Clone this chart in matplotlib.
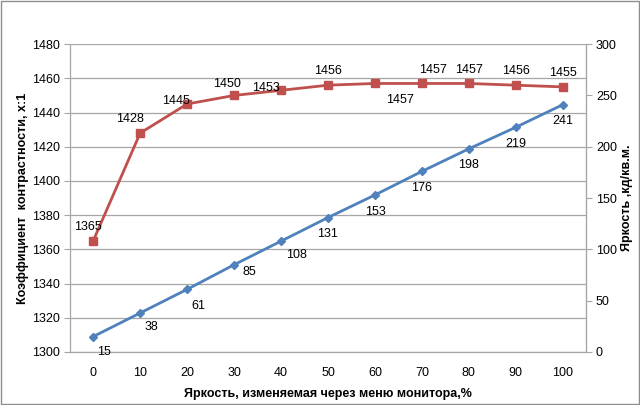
import matplotlib
matplotlib.use("Agg")
import matplotlib.pyplot as plt
from matplotlib.patches import Rectangle

plt.rcParams['font.family'] = ['Liberation Sans', 'DejaVu Sans']

x_cats = [0, 10, 20, 30, 40, 50, 60, 70, 80, 90, 100]
contrast = [1365, 1428, 1445, 1450, 1453, 1456, 1457, 1457, 1457, 1456, 1455]
brightness = [15, 38, 61, 85, 108, 131, 153, 176, 198, 219, 241]

xlabel = "Яркость, изменяемая через меню монитора,%"
ylabel_left = "Коэффициент  контрастности, х:1"
ylabel_right = "Яркость ,кд/кв.м."

# label offsets in points (dx, dy)
red_off = [(-4, 10), (-7, 10), (-8, 2), (-5, 8), (-11, 2), (0, 10), (18, -12), (8, 10), (0, 10), (0, 10), (0, 10)]
blue_off = [(8, -11), (8, -10), (8, -12), (11, -5), (11, -10), (0, -12), (0, -12), (0, -12), (0, -12), (0, -12), (0, -12)]

RED = '#C0504D'
BLUE = '#4F81BD'
GRID = '#A6A6A6'

fig = plt.figure(figsize=(6.4, 4.05), dpi=100)
fig.patches.append(Rectangle((0.001, 0.003), 0.997, 0.994, transform=fig.transFigure,
                             fill=False, edgecolor='#8C8C8C', linewidth=1.0))

ax = fig.add_axes([0.109, 0.131, 0.807, 0.760])
pos = list(range(len(x_cats)))
ax.set_xlim(-0.5, len(x_cats) - 0.5)
ax.set_ylim(1300, 1480)
ax.set_yticks(range(1300, 1481, 20))
ax.set_xticks(pos)
ax.set_xticklabels([str(v) for v in x_cats])
ax.grid(axis='y', color=GRID, linewidth=0.9)
ax.set_axisbelow(True)
ax.spines['top'].set_visible(False)
for s in ['left', 'bottom', 'right']:
    ax.spines[s].set_color(GRID)
    ax.spines[s].set_linewidth(0.9)
ax.tick_params(axis='y', length=4, color=GRID, labelsize=9, pad=3)
ax.tick_params(axis='x', length=0, labelsize=9, pad=11)

ax2 = ax.twinx()
ax2.set_ylim(0, 300)
ax2.set_yticks(range(0, 301, 50))
for s in ['top', 'left', 'bottom']:
    ax2.spines[s].set_visible(False)
ax2.spines['right'].set_color(GRID)
ax2.tick_params(axis='y', length=4, color=GRID, labelsize=9, pad=3)

ax2.plot(pos, brightness, color=BLUE, linewidth=2, marker='D', markersize=4.5, zorder=3)
ax.plot(pos, contrast, color=RED, linewidth=2, marker='s', markersize=6, zorder=3)

for p, v, (dx, dy) in zip(pos, contrast, red_off):
    ax.annotate(str(v), (p, v), xytext=(dx, dy), textcoords='offset points',
                ha='center', va='center', fontsize=9)
for p, v, (dx, dy) in zip(pos, brightness, blue_off):
    ax2.annotate(str(v), (p, v), xytext=(dx, dy), textcoords='offset points',
                 ha='center', va='center', fontsize=9)

ax.set_xlabel(xlabel, fontsize=9, fontweight='bold', labelpad=6)
ax.set_ylabel(ylabel_left, fontsize=9, fontweight='bold', labelpad=2)
ax2.set_ylabel(ylabel_right, fontsize=9, fontweight='bold', labelpad=3)

fig.savefig("out.png", dpi=100)
